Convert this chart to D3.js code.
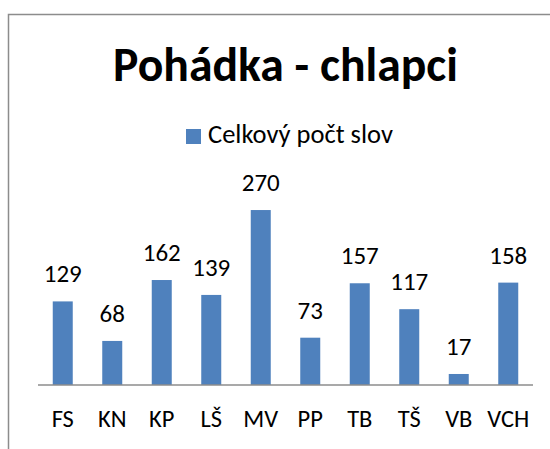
<!DOCTYPE html>
<html>
<head>
<meta charset="utf-8">
<script src="https://cdn.jsdelivr.net/npm/d3@7"></script>
<style>
  body { margin: 0; background: #fff; }
  svg { display: block; font-family: Carlito, Lato, sans-serif; }
</style>
</head>
<body>
<svg></svg>
<script>
let categories = ["FS", "KN", "KP", "LŠ", "MV", "PP", "TB", "TŠ", "VB", "VCH"]
let values = [129, 68, 162, 139, 270, 73, 157, 117, 17, 158]
let seriesName = "Celkový počt slov"
let title = "Pohádka - chlapci"

let width = 550
let height = 449

let svg = d3.select("svg")

let xScale
let yScale

// pick a font size so that a sample text gets the width seen in the original
let fitSize = (sample, targetWidth, weight) => {
    let t = svg.append("text")
        .style("font-size", "20px")
        .style("font-weight", weight || "normal")
        .text(sample)
    let w = t.node().getComputedTextLength()
    t.remove()
    return 20 * targetWidth / w
}

let drawCanvas = () => {
    svg.attr("width", width)
    svg.attr("height", height)

    // chart area border (runs off the right and bottom edge)
    svg.append("rect")
        .attr("x", 8.5)
        .attr("y", 14.5)
        .attr("width", 600)
        .attr("height", 500)
        .attr("fill", "none")
        .attr("stroke", "#8c8c8c")
        .attr("stroke-width", 1.5)
}

let generateScales = () => {
    xScale = d3.scaleBand()
        .domain(categories)
        .range([38, 533])
        .paddingInner(0.596)
        .paddingOuter(0.298)

    yScale = d3.scaleLinear()
        .domain([0, 300])
        .range([385, 190.6])
}

let drawTitle = () => {
    svg.append("text")
        .attr("x", 285.5)
        .attr("y", 81)
        .attr("text-anchor", "middle")
        .style("font-size", fitSize(title, 345, "bold") + "px")
        .style("font-weight", "bold")
        .text(title)
}

let drawLegend = () => {
    let g = svg.append("g")
    g.append("rect")
        .attr("x", 186)
        .attr("y", 129)
        .attr("width", 15)
        .attr("height", 15)
        .attr("fill", "#4f81bd")
    g.append("text")
        .attr("x", 208)
        .attr("y", 143)
        .style("font-size", fitSize(seriesName, 185) + "px")
        .text(seriesName)
}

let drawBars = () => {
    svg.selectAll(".bar")
        .data(values)
        .enter()
        .append("rect")
        .attr("class", "bar")
        .attr("x", (d, i) => xScale(categories[i]))
        .attr("y", (d) => yScale(d))
        .attr("width", xScale.bandwidth())
        .attr("height", (d) => yScale(0) - yScale(d))
        .attr("fill", "#4f81bd")

    let labelSize = fitSize("129", 38)
    svg.selectAll(".label")
        .data(values)
        .enter()
        .append("text")
        .attr("class", "label")
        .attr("x", (d, i) => xScale(categories[i]) + xScale.bandwidth() / 2)
        .attr("y", (d) => yScale(d) - 19)
        .attr("text-anchor", "middle")
        .style("font-size", labelSize + "px")
        .text((d) => d)
}

let generateAxes = () => {
    let xAxis = d3.axisBottom(xScale).tickSize(0).tickPadding(0)
    let tickSize = fitSize("VCH", 42)

    let g = svg.append("g")
        .attr("id", "x-axis")
        .attr("transform", "translate(0, 385)")
        .call(xAxis)

    g.select(".domain")
        .attr("stroke", "#8c8c8c")
        .attr("stroke-width", 1.5)
        .attr("d", "M38,0H533")

    g.selectAll(".tick text")
        .attr("dy", null)
        .attr("y", 42)
        .style("font-size", tickSize + "px")
        .style("font-family", "Carlito, Lato, sans-serif")
        .attr("fill", "#000")
}

drawCanvas()
generateScales()
drawBars()
generateAxes()
drawTitle()
drawLegend()
</script>
</body>
</html>
